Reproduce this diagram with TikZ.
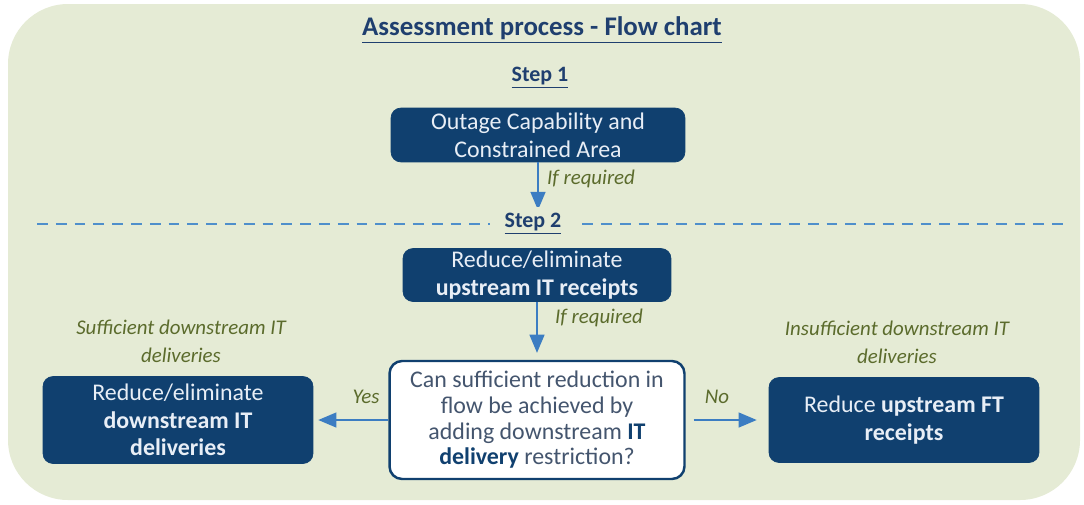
\documentclass[tikz,border=0pt]{standalone}
\usepackage{fontspec}
\setmainfont{Carlito}
\usepackage{tikz}
\usetikzlibrary{arrows, shapes, positioning}

\definecolor{fond}{HTML}{E5EBD5}
\definecolor{bleubloc}{HTML}{10406F}
\definecolor{textebloc}{HTML}{E8EEF6}
\definecolor{bleufleche}{HTML}{3C7DC2}
\definecolor{bleutiret}{HTML}{4F8FCB}
\definecolor{marine}{HTML}{1F3F6F}
\definecolor{olive}{HTML}{5B6B2C}
\definecolor{textequestion}{HTML}{44556E}

\tikzset{
	bloc/.style={draw=bleubloc, fill=bleubloc, text=textebloc, rounded corners=0.2cm, align=center, inner sep=0pt, font=\fontsize{13.6}{15.8}\selectfont},
	question/.style={draw=bleubloc, line width=1.4pt, fill=white, text=textequestion, rounded corners=0.25cm, align=center, inner sep=0pt, font=\fontsize{13.6}{14.6}\selectfont},
	remarque/.style={text=olive, align=center, font=\fontsize{11.9}{15.9}\selectfont\itshape},
	etape/.style={text=marine, font=\fontsize{12.5}{14}\selectfont\bfseries},
	fleche/.style={draw=bleufleche, line width=1.4pt, -triangle 45}
}

\begin{document}
\begin{tikzpicture}[x=0.02cm, y=-0.02cm]
	\useasboundingbox (0,0) rectangle (1084,504);
	\fill[fond, rounded corners=1.2cm] (8,4) rectangle (1080,500);

	\node[text=marine, font=\fontsize{15.3}{17}\selectfont\bfseries] (titre) at (542,30) {\underline{Assessment process - Flow chart}};
	\node[etape] (etape1) at (540,78) {\underline{Step 1}};

	\node[bloc, minimum width=5.88cm, minimum height=1.08cm] (outage) at (538,135) {Outage Capability and\\Constrained Area};
	\coordinate (fin1) at (538,210);
	\draw[fleche] (outage) -- (fin1);
	\node[remarque, anchor=west] (requis1) at (541,179) {If required};

	%separation
	\coordinate (tiretg) at (37,224);
	\coordinate (tiretd) at (1064,224);
	\draw[bleutiret, line width=1.7pt, dash pattern=on 6.2pt off 4.5pt] (tiretg) -- (tiretd);
	\node[etape, fill=fond, inner xsep=0.3cm] (etape2) at (533,224) {\underline{Step 2}};

	\node[bloc, minimum width=5.36cm, minimum height=1.06cm] (upstream) at (537,275) {Reduce/eliminate\\\textbf{upstream IT receipts}};
	\node[question, minimum width=5.9cm, minimum height=2.36cm] (question) at (537,420) {Can sufficient reduction in\\flow be achieved by\\adding downstream \textcolor{bleubloc}{\textbf{IT}}\\\textcolor{bleubloc}{\textbf{delivery}} restriction?};
	\draw[fleche, shorten >=0.14cm] (upstream) -- (question);
	\node[remarque, anchor=west] (requis2) at (549,318) {If required};

	%partie gauche
	\node[bloc, minimum width=5.4cm, minimum height=1.74cm] (downstream) at (178,420) {Reduce/eliminate\\\textbf{downstream IT}\\\textbf{deliveries}};
	\node[remarque] (suffisant) at (181,341) {Sufficient downstream IT\\deliveries};
	\draw[fleche, shorten >=0.1cm] (question) -- (downstream);
	\node[remarque] (oui) at (366,397) {Yes};

	%partie droite
	\node[bloc, minimum width=5.4cm, minimum height=1.7cm] (ft) at (904,420) {Reduce \textbf{upstream FT}\\\textbf{receipts}};
	\node[remarque] (insuffisant) at (897,342) {Insufficient downstream IT\\deliveries};
	\draw[fleche, shorten <=0.16cm, shorten >=0.24cm] (question) -- (ft);
	\node[remarque] (non) at (717,397) {No};
\end{tikzpicture}
\end{document}
